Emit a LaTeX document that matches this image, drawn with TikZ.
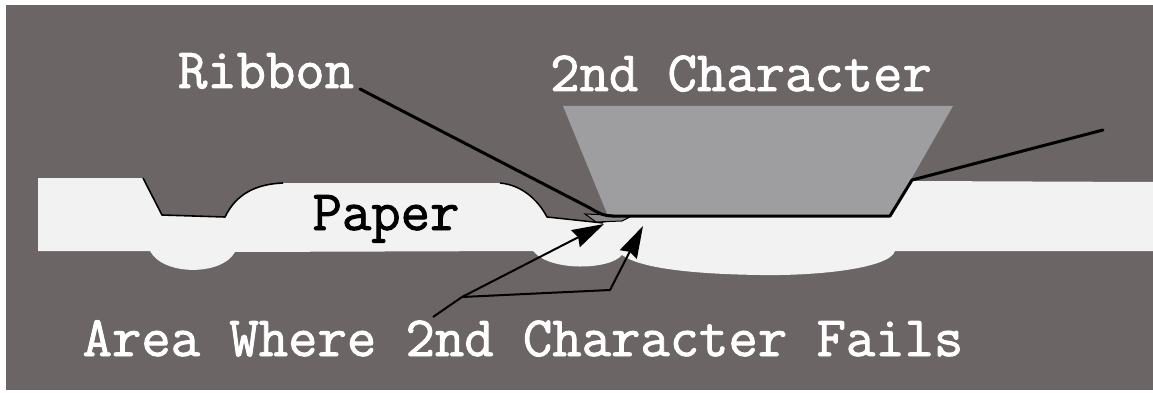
\documentclass[tikz,border=0pt]{standalone}
\usepackage{fontspec}
\usepackage{tikz}
\usetikzlibrary{arrows.meta}
\newfontfamily\typewfont{Latin Modern Mono}[FakeBold=1.6]
\definecolor{slate}{HTML}{6B6566}
\definecolor{typeface}{HTML}{9E9D9F}
\definecolor{sheet}{HTML}{F2F2F2}
\definecolor{inkgrey}{HTML}{8E898A}
\tikzset{
  lbl/.style={font=\fontsize{57}{60}\typewfont, text=white, inner sep=0pt, anchor=base},
  edge/.style={line width=2pt, color=black, line join=round},
  rib/.style={line width=3pt, color=black, line join=round, line cap=round},
  arr/.style={-{Stealth[length=32pt,width=19pt,inset=3pt]}, line width=2pt, color=black},
}

\begin{document}
\begin{tikzpicture}[x=1pt,y=-1pt]
  \useasboundingbox (0,0) rectangle (1153,393);
  \fill[slate] (6,5) rectangle (1153,390);

  % paper strip, with the dents left by earlier strikes
  \fill[sheet] (38,178) -- (143,178) -- (162,215) -- (225,217)
    .. controls (236,194) and (256,184) .. (283,183) -- (500,183)
    .. controls (522,185) and (538,200) .. (547,217)
    -- (603,223) -- (630,217) -- (890,217) -- (912,181) -- (1153,182)
    -- (1153,251) -- (895,251)
    .. controls (890,268) and (820,276) .. (760,275)
    .. controls (690,274) and (640,268) .. (622,255)
    .. controls (610,270) and (550,272) .. (533,251)
    -- (235,252) .. controls (222,276) and (163,276) .. (150,251)
    -- (38,251) -- cycle;
  \draw[edge, line width=1.6pt] (143,178) -- (162,215) -- (225,217)
    .. controls (236,194) and (256,184) .. (283,183);
  \draw[edge, line width=1.5pt] (500,183)
    .. controls (522,185) and (538,200) .. (547,217) -- (603,223);

  % typeface of the second character
  \fill[typeface] (563,106) -- (953,106) -- (890,216) -- (608,216) -- cycle;

  % ribbon tip caught under the face
  \filldraw[fill=inkgrey, draw=black, line width=1pt]
    (585,214) -- (610,215) -- (630,217) -- (622,221) -- (596,222) -- cycle;

  % ribbon
  \coordinate (ribA) at (360,89);
  \coordinate (ribB) at (1103,130);
  \draw[rib] (ribA) -- (590,208) .. controls (600,214) and (605,216) .. (612,216)
    -- (890,216) -- (912,180) -- (ribB);

  % labels
  \node[lbl] (ribbon) at (266,88) {Ribbon};
  \node[lbl] (second) at (741,91) {2nd Character};
  \node[lbl, text=black] (paper) at (386,230) {Paper};
  \node[lbl] (fails) at (523,356) {Area Where 2nd Character Fails};

  % pointers to the failing area
  \coordinate (jn)   at (462,297);
  \coordinate (tail) at (433,317);
  \coordinate (bend) at (610,290);
  \coordinate (tipA) at (604,224);
  \coordinate (tipB) at (643,226);
  \draw[edge] (tail) -- (jn);
  \draw[arr] (jn) -- (tipA);
  \draw[arr, line join=round] (jn) -- (bend) -- (tipB);
\end{tikzpicture}
\end{document}
